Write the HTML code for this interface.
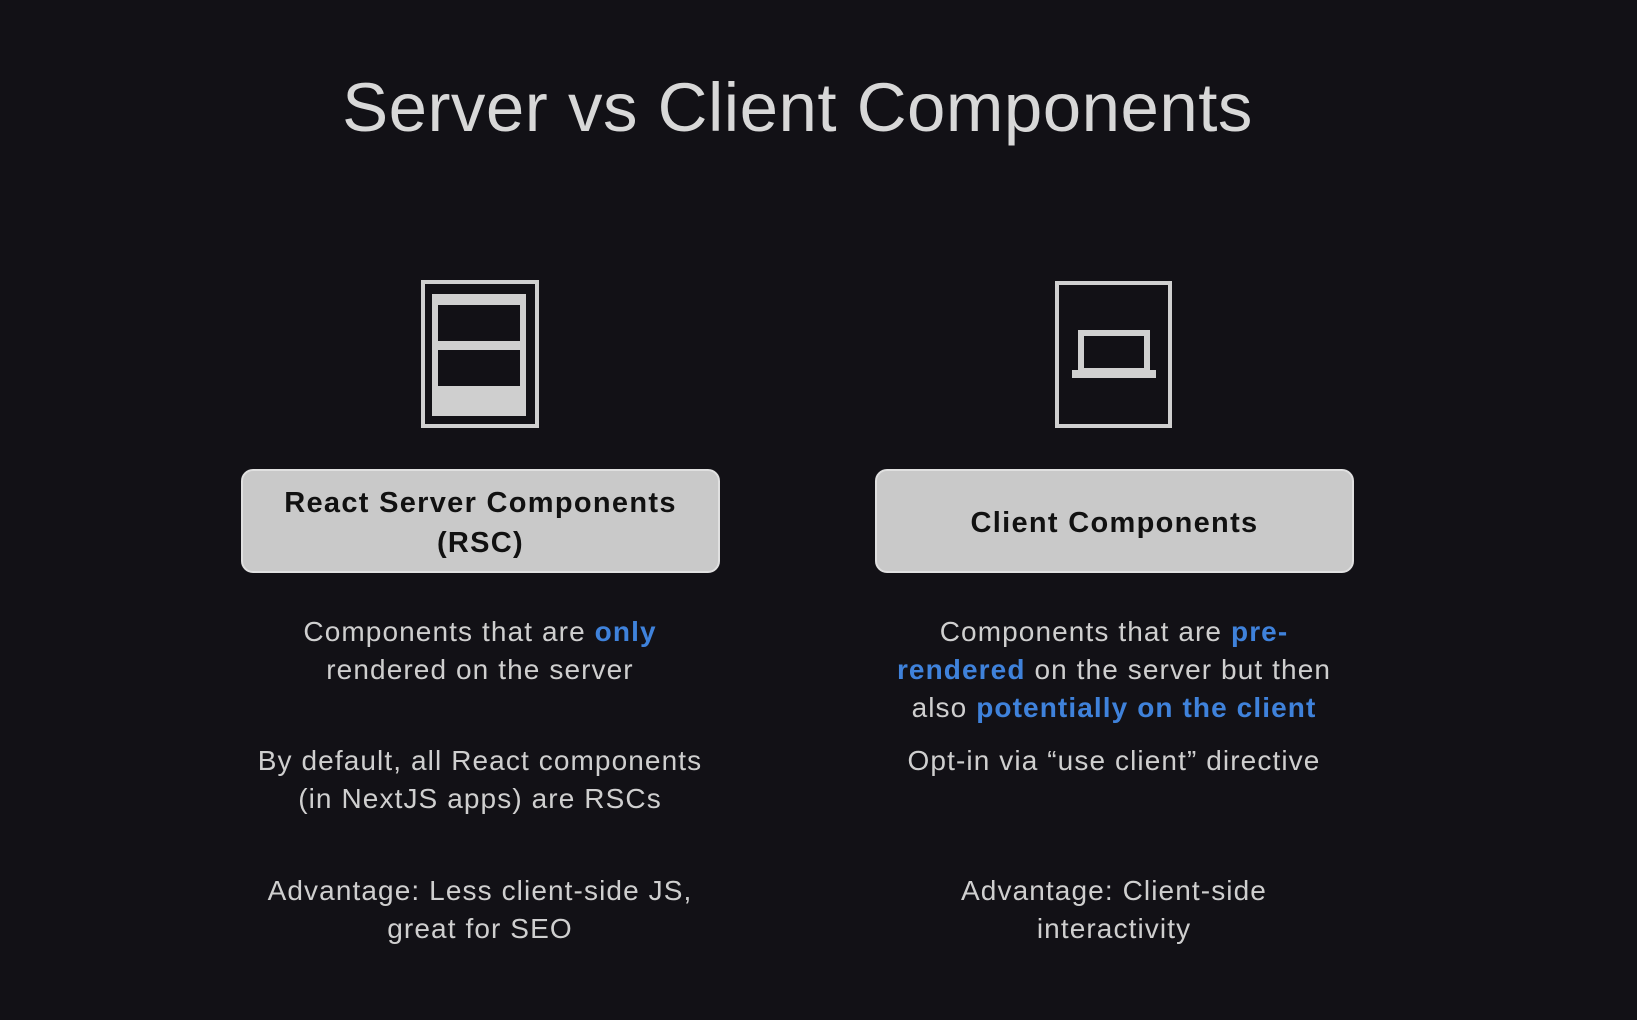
<!DOCTYPE html>
<html><head><style>
html,body{margin:0;padding:0;}
body{width:1637px;height:1020px;background:#121116;position:relative;overflow:hidden;font-family:"Liberation Sans",sans-serif;}
.t{position:absolute;left:-21px;width:1637px;text-align:center;top:68px;font-size:69px;color:#d8d8d8;letter-spacing:0.5px;}
.btn{position:absolute;top:469px;height:104px;width:479px;background:#c9c9c9;border-radius:12px;border:2px solid #e0e0e0;box-sizing:border-box;display:flex;align-items:center;justify-content:center;text-align:center;font-weight:bold;font-size:29px;line-height:40px;color:#111;letter-spacing:1.3px;padding-top:3px;}
.p{position:absolute;width:600px;text-align:center;font-size:28px;line-height:38px;color:#cfcfcf;letter-spacing:1.1px;}
.p b{color:#3f82db;}
</style></head><body>
<div class="t">Server vs Client Components</div>
<svg width="1637" height="1020" style="position:absolute;left:0;top:0">
<rect x="423" y="282" width="114" height="144" fill="none" stroke="#d0d0d0" stroke-width="4"/>
<rect x="432" y="294" width="94" height="122" fill="#cfcfcf"/>
<rect x="438" y="305" width="82" height="36" fill="#121116"/>
<rect x="438" y="350" width="82" height="36" fill="#121116"/>
<rect x="1057" y="283" width="113" height="143" fill="none" stroke="#d0d0d0" stroke-width="4"/>
<rect x="1081" y="333" width="66" height="38" fill="none" stroke="#d0d0d0" stroke-width="6"/>
<rect x="1072" y="370" width="84" height="8" fill="#d0d0d0"/>
</svg>
<div class="btn" style="left:241px">React Server Components<br>(RSC)</div>
<div class="btn" style="left:875px">Client Components</div>
<div class="p" style="left:180px;top:613px">Components that are <b>only</b><br>rendered on the server</div>
<div class="p" style="left:180px;top:742px">By default, all React components<br>(in NextJS apps) are RSCs</div>
<div class="p" style="left:180px;top:872px">Advantage: Less client-side JS,<br>great for SEO</div>
<div class="p" style="left:814px;top:613px">Components that are <b>pre-<br>rendered</b> on the server but then<br>also <b>potentially on the client</b></div>
<div class="p" style="left:814px;top:742px">Opt-in via “use client” directive</div>
<div class="p" style="left:814px;top:872px">Advantage: Client-side<br>interactivity</div>
</body></html>
